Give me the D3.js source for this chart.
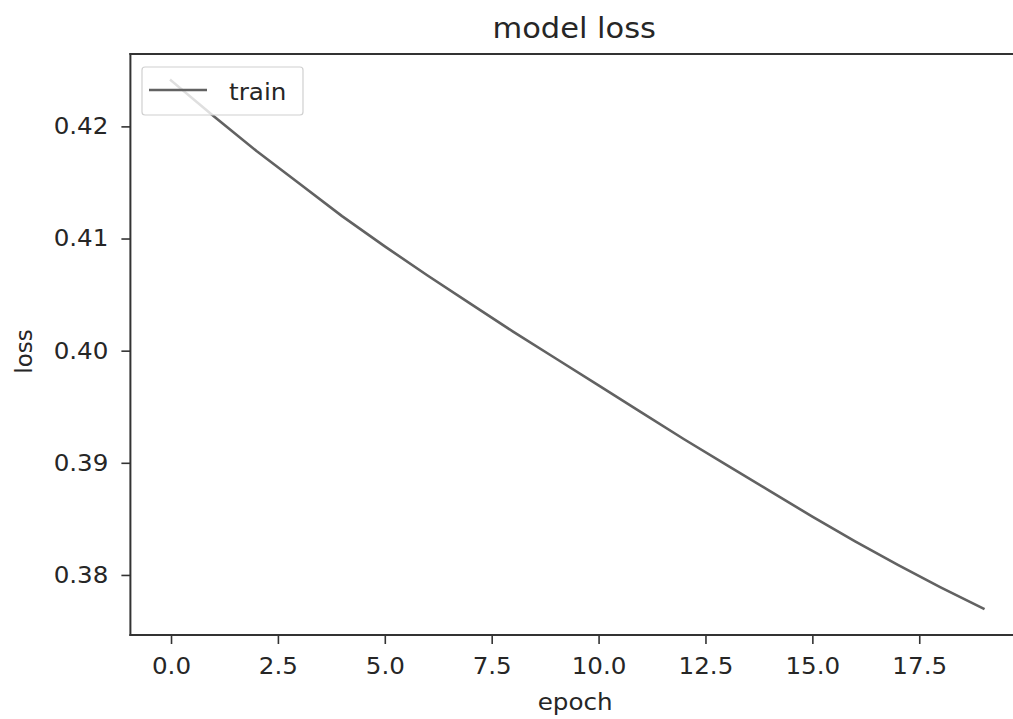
<!DOCTYPE html>
<html>
<head>
<meta charset="utf-8">
<script src="https://cdn.jsdelivr.net/npm/d3@7"></script>
<style>
  html, body { margin: 0; padding: 0; background: #fff; overflow: hidden; }
  svg { display: block; }
  text { font-family: "DejaVu Sans", sans-serif; fill: #262626; }
  .st { transform-box: fill-box; transform-origin: center; transform: scaleX(1.07); }
  .sl { transform-box: fill-box; transform-origin: right center; transform: scaleX(1.07); }
</style>
</head>
<body>
<svg id="chart" width="1013" height="719"></svg>
<script>
const epochs = d3.range(0, 20);
const trainLoss = [0.4241, 0.4209, 0.4178, 0.4149, 0.4120, 0.4093, 0.4067, 0.4042, 0.4017, 0.3993,
                   0.3969, 0.3945, 0.3921, 0.3898, 0.3875, 0.3852, 0.3830, 0.3809, 0.3789, 0.3770];
const xTicks = [0, 2.5, 5, 7.5, 10, 12.5, 15, 17.5];
const yTicks = [0.38, 0.39, 0.40, 0.41, 0.42];
const titleText = "model loss";
const xLabel = "epoch";
const yLabel = "loss";
const seriesName = "train";

const svg = d3.select("#chart");
const pLeft = 130.4, pRight = 1024, pTop = 54, pBottom = 635;

const xExt = d3.extent(epochs), xPad = (xExt[1] - xExt[0]) * 0.05;
const yExt = d3.extent(trainLoss), yPad = (yExt[1] - yExt[0]) * 0.05;
const x = d3.scaleLinear().domain([xExt[0] - xPad, xExt[1] + xPad]).range([pLeft, pRight]);
const y = d3.scaleLinear().domain([yExt[0] - yPad, yExt[1] + yPad]).range([pBottom, pTop]);

// line
svg.append("path")
  .datum(epochs.map((e, i) => [e, trainLoss[i]]))
  .attr("fill", "none")
  .attr("stroke", "#626262")
  .attr("stroke-width", 2.6)
  .attr("stroke-linejoin", "round")
  .attr("stroke-linecap", "square")
  .attr("d", d3.line().x(d => x(d[0])).y(d => y(d[1])));

// axes
const xAxis = svg.append("g").attr("transform", `translate(0,${pBottom})`)
  .call(d3.axisBottom(x).tickValues(xTicks).tickFormat(d3.format(".1f")).tickSizeOuter(0).tickSize(9).tickPadding(14));
const yAxis = svg.append("g").attr("transform", `translate(${pLeft},0)`)
  .call(d3.axisLeft(y).tickValues(yTicks).tickFormat(d3.format(".2f")).tickSizeOuter(0).tickSize(9).tickPadding(13));
[xAxis, yAxis].forEach(a => {
  a.select(".domain").remove();
  a.selectAll(".tick line").attr("stroke", "#333").attr("stroke-width", 1.6);
  a.selectAll(".tick text").attr("font-size", 23).attr("fill", "#262626")
    .style("font-family", "'DejaVu Sans', sans-serif");
});
xAxis.selectAll(".tick text").attr("class", "st");
yAxis.selectAll(".tick text").attr("class", "sl");

// spines (right spine falls outside the visible canvas)
const spines = [
  [pLeft, pTop, pLeft, pBottom],
  [pLeft, pBottom, pRight, pBottom],
  [pLeft, pTop, pRight, pTop]
];
svg.selectAll("line.spine").data(spines).join("line").attr("class", "spine")
  .attr("x1", d => d[0]).attr("y1", d => d[1]).attr("x2", d => d[2]).attr("y2", d => d[3])
  .attr("stroke", "#333").attr("stroke-width", 2).attr("stroke-linecap", "square");

// title & labels
svg.append("text").attr("class", "st").attr("x", (pLeft + pRight) / 2 - 3).attr("y", 38)
  .attr("text-anchor", "middle").attr("font-size", 28.5).text(titleText);
svg.append("text").attr("class", "st").attr("x", (pLeft + pRight) / 2 - 2).attr("y", 710)
  .attr("text-anchor", "middle").attr("font-size", 23).text(xLabel);
svg.append("text")
  .attr("transform", `translate(32,${(pTop + pBottom) / 2 + 7}) rotate(-90)`)
  .attr("text-anchor", "middle").attr("font-size", 23).text(yLabel);

// legend
const lg = svg.append("g");
lg.append("rect").attr("x", 142).attr("y", 67).attr("width", 161).attr("height", 48)
  .attr("rx", 3).attr("fill", "rgba(255,255,255,0.8)").attr("stroke", "#d0d0d0").attr("stroke-width", 1.2);
lg.append("line").attr("x1", 149).attr("x2", 207).attr("y1", 90).attr("y2", 90)
  .attr("stroke", "#626262").attr("stroke-width", 2.6);
lg.append("text").attr("class", "st").attr("x", 231).attr("y", 100).attr("font-size", 23).text(seriesName);
</script>
</body>
</html>
